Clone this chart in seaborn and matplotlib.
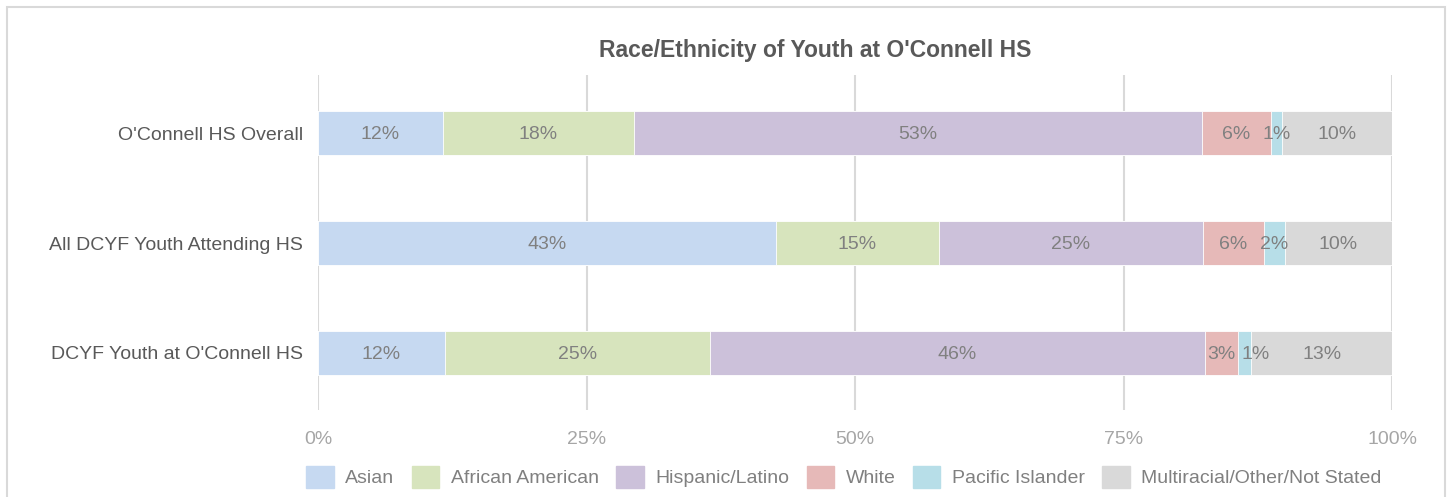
import matplotlib
matplotlib.use("Agg")
import matplotlib.pyplot as plt
from matplotlib.patches import Rectangle
import seaborn as sns
import pandas as pd

# data (percent of youth)
groups = ["O'Connell HS Overall", "All DCYF Youth Attending HS", "DCYF Youth at O'Connell HS"]
races = ["Asian", "African American", "Hispanic/Latino", "White",
         "Pacific Islander", "Multiracial/Other/Not Stated"]
asian = [11.6, 42.6, 11.8]
african_american = [17.8, 15.2, 24.7]
hispanic = [52.9, 24.6, 46.1]
white = [6.4, 5.7, 3.1]
pacific = [1.1, 1.9, 1.2]
multi = [10.2, 10.0, 13.1]
colors = ["#C6D9F1", "#D7E4BD", "#CCC1DA", "#E6B9B8", "#B7DEE8", "#D9D9D9"]
xticks = [0, 25, 50, 75, 100]

df = pd.DataFrame({"group": groups, "Asian": asian, "African American": african_american,
                   "Hispanic/Latino": hispanic, "White": white,
                   "Pacific Islander": pacific, "Multiracial/Other/Not Stated": multi})

sns.set_theme(style="white")
plt.rcParams['font.family'] = ['Liberation Sans', 'DejaVu Sans']

fig = plt.figure(figsize=(14.51, 4.97), dpi=100)
ax = fig.add_axes([318 / 1451, 1 - 410 / 497, 1074 / 1451, 335 / 497])

# stacked bars: draw cumulative totals from the widest down
cum = df[races].cumsum(axis=1)
for i in range(len(races) - 1, -1, -1):
    sns.barplot(x=cum[races[i]], y=df["group"], orient="h", color=colors[i],
                width=0.4, ax=ax, saturation=1, edgecolor="white", linewidth=0.6,
                zorder=2)

# percent labels in the middle of each segment
# (the tiny Pacific Islander label of the last row is pushed right, as in the original)
nudge = {(2, "Pacific Islander"): 8}
for r in range(len(groups)):
    left = 0
    for race in races:
        v = df[race][r]
        ax.annotate(f"{v:.0f}%", (left + v / 2, r), xytext=(nudge.get((r, race), 0), -1),
                    textcoords="offset points", ha="center", va="center",
                    fontsize=14, color="#808080", zorder=3)
        left += v

ax.set_xlim(0, 100)
ax.set_ylim(2.52, -0.53)
ax.set_xticks(xticks)
ax.set_xticklabels([f"{t}%" for t in xticks], fontsize=14, color="#A6A6A6")
ax.tick_params(axis="y", labelsize=14, labelcolor="#595959", length=0, pad=11)
ax.tick_params(axis="x", length=0, pad=15)
ax.set_xlabel("")
ax.set_ylabel("")
ax.xaxis.grid(True, color="#D9D9D9", linewidth=1.5, zorder=0)
ax.set_axisbelow(True)
sns.despine(ax=ax, left=True, bottom=True)

fig.text(815 / 1451, 1 - 50 / 497, "Race/Ethnicity of Youth at O'Connell HS",
         ha="center", va="center", fontsize=16.5, fontweight="bold", color="#595959")

handles = [Rectangle((0, 0), 1, 1, color=c) for c in colors]
fig.legend(handles, races, loc="center", bbox_to_anchor=(844 / 1451, 1 - 477 / 497),
           ncol=6, frameon=False, fontsize=14, labelcolor="#808080",
           handlelength=1.4, handleheight=1.4, handletextpad=0.6, columnspacing=0.9)

# light frame around the chart area
fig.patches.append(Rectangle((7 / 1451, -0.1), 1438 / 1451, 1.1 - 7 / 497,
                             transform=fig.transFigure, fill=False,
                             edgecolor="#D9D9D9", linewidth=1.5))

fig.savefig("out.png", dpi=100)
